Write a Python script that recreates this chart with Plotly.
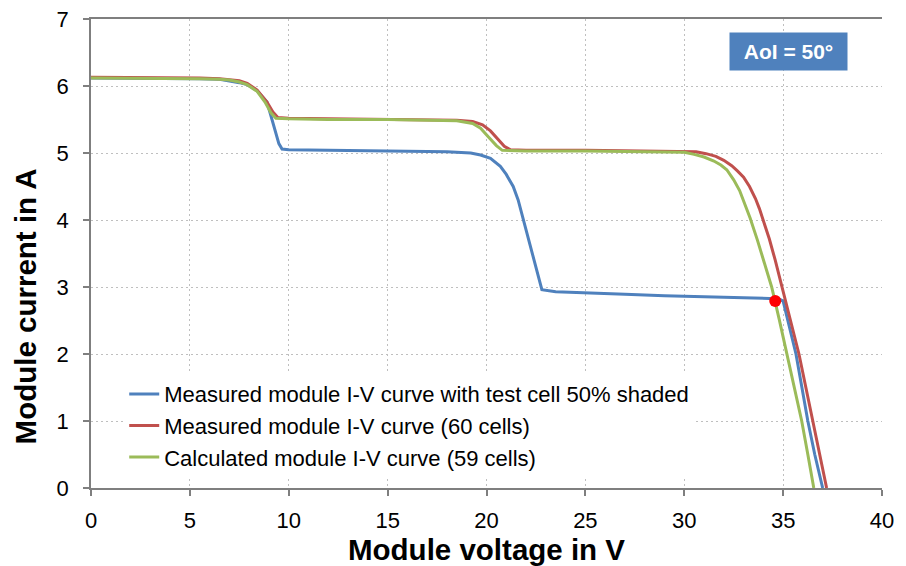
import plotly.graph_objects as go

# ---- data ----
blue_v = [0, 2, 4, 5.5, 6.5, 7.0, 7.5, 7.9, 8.4, 8.9, 9.1, 9.3, 9.5, 9.66, 10, 12, 15, 18, 19.2, 19.7,
          20.2, 20.7, 21.0, 21.35, 21.6, 21.85, 22.1, 22.35, 22.6, 22.8, 23.5, 25, 27, 29, 31, 33, 34.3,
          34.8, 35.0, 35.2, 35.45, 35.65, 35.95, 36.25, 36.6, 37.0]
blue_i = [6.12, 6.12, 6.11, 6.11, 6.10, 6.08, 6.05, 6.02, 5.93, 5.76, 5.55, 5.33, 5.14, 5.06, 5.05, 5.04, 5.03, 5.02, 5.00, 4.97,
          4.92, 4.80, 4.68, 4.50, 4.30, 4.02, 3.76, 3.50, 3.20, 2.96, 2.93, 2.91, 2.89, 2.87, 2.86, 2.84, 2.83,
          2.82, 2.79, 2.55, 2.22, 2.00, 1.50, 1.00, 0.50, 0.0]

red_v = [0, 2, 4, 5.5, 6.5, 7.0, 7.5, 7.9, 8.4, 8.9, 9.2, 9.45, 10, 12, 15, 17, 18.5, 19.3, 19.8,
         20.2, 20.6, 20.9, 21.2, 22, 25, 28, 30, 30.6, 31.1, 31.6, 32.0, 32.4, 32.7, 33.0, 33.3, 33.6,
         33.8, 34.0, 34.3, 34.6, 34.95, 35.4, 35.8, 36.15, 36.5, 36.85, 37.2]
red_i = [6.13, 6.13, 6.12, 6.12, 6.11, 6.10, 6.08, 6.04, 5.94, 5.76, 5.61, 5.53, 5.52, 5.51, 5.50, 5.50, 5.49, 5.47, 5.42,
         5.33, 5.20, 5.10, 5.05, 5.04, 5.04, 5.03, 5.03, 5.02, 4.99, 4.95, 4.89, 4.81, 4.73, 4.64, 4.50, 4.32,
         4.17, 4.00, 3.72, 3.40, 3.00, 2.50, 2.00, 1.50, 1.00, 0.50, 0.0]

green_v = [0, 2, 4, 5.5, 6.5, 7.0, 7.5, 7.9, 8.4, 8.8, 9.1, 9.35, 10, 12, 15, 17, 18.5, 19.3, 19.7,
           20.1, 20.5, 20.8, 22, 25, 28, 29.5, 30.0, 30.5, 31.0, 31.5, 31.85, 32.15, 32.5, 32.8, 33.05,
           33.33, 33.7, 34.05, 34.42, 34.8, 35.18, 35.56, 35.94, 36.25, 36.55]
green_i = [6.12, 6.12, 6.11, 6.11, 6.10, 6.09, 6.06, 6.02, 5.92, 5.76, 5.60, 5.52, 5.51, 5.50, 5.50, 5.49, 5.48, 5.44, 5.37,
           5.24, 5.11, 5.04, 5.03, 5.03, 5.02, 5.02, 5.01, 4.98, 4.94, 4.88, 4.82, 4.75, 4.60, 4.44, 4.26,
           4.03, 3.70, 3.36, 3.00, 2.52, 2.00, 1.50, 1.00, 0.50, 0.0]

mpp_v = [34.6]
mpp_i = [2.79]

names = ["Measured module I-V curve with test cell 50% shaded",
         "Measured module I-V curve (60 cells)",
         "Calculated module I-V curve (59 cells)"]
colors = ["#4F81BD", "#C0504D", "#9BBB59"]

x_ticks = [0, 5, 10, 15, 20, 25, 30, 35, 40]
y_ticks = [0, 1, 2, 3, 4, 5, 6, 7]

FONT = "Liberation Sans, Arial, sans-serif"

fig = go.Figure()
for v, i, n, c in zip([blue_v, red_v, green_v], [blue_i, red_i, green_i], names, colors):
    fig.add_trace(go.Scatter(x=v, y=i, mode="lines", name=n,
                             line=dict(color=c, width=3)))
fig.add_trace(go.Scatter(x=mpp_v, y=mpp_i, mode="markers", showlegend=False,
                         marker=dict(color="#FF0000", size=12)))

axis_common = dict(
    showline=True, linecolor="#7F7F7F", linewidth=1.5, automargin=False,
    ticks="outside", ticklen=6, tickcolor="#7F7F7F", tickwidth=1.5,
    showgrid=True, gridcolor="#BFBFBF", griddash="2px,3px", gridwidth=1,
    zeroline=False, tickfont=dict(family=FONT, size=22, color="#000"),
)

fig.update_layout(
    width=906, height=566,
    margin=dict(l=91, r=24, t=19, b=78),
    plot_bgcolor="white", paper_bgcolor="white",
    font=dict(family=FONT, color="#000"),
    xaxis=dict(range=[0, 40], tickvals=x_ticks, mirror=True, ticklabelstandoff=6,
               title=dict(text="<b>Module voltage in V</b>", font=dict(family=FONT, size=29.5), standoff=12),
               **axis_common),
    yaxis=dict(range=[0, 7], tickvals=y_ticks, ticklabelstandoff=10, **axis_common),
    legend=dict(x=0.042, y=0.245, xanchor="left", yanchor="top",
                bgcolor="white", font=dict(family=FONT, size=22, color="#000"),
                itemwidth=30, tracegroupgap=0),
    annotations=[
        dict(xref="paper", yref="paper", x=0.882, y=0.9307, xanchor="center", yanchor="middle",
             text="<b>AoI = 50°</b>", showarrow=False,
             font=dict(family=FONT, size=21, color="white"),
             bgcolor="#4F81BD", width=113, height=33, borderpad=2),
        dict(xref="paper", yref="paper", x=-0.083, y=0.388, xanchor="center", yanchor="middle",
             text="<b>Module current in A</b>", showarrow=False, textangle=-90,
             font=dict(family=FONT, size=29.5, color="#000")),
    ],
)

fig.write_html("out.html")
